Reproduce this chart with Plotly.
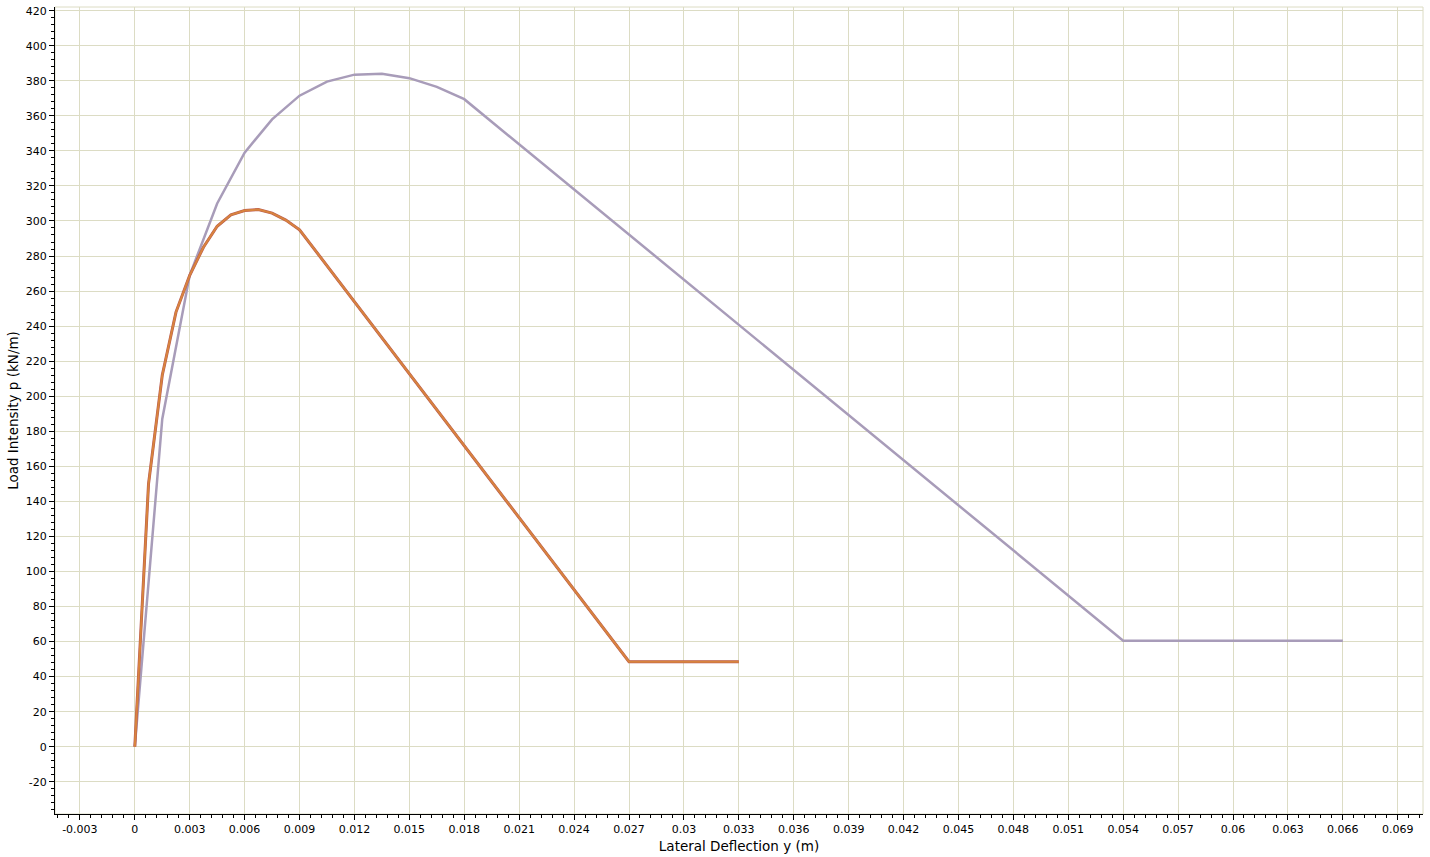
import plotly.graph_objects as go

# Series A (purple)
purple_x = [0, 0.0015, 0.003, 0.0045, 0.006, 0.0075, 0.009, 0.0105, 0.012, 0.0135, 0.015, 0.0165, 0.018, 0.054, 0.066]
purple_y = [0, 187, 269, 310, 339, 358, 371.5, 379.5, 383.5, 384, 381.5, 376.5, 369.5, 60.5, 60.5]

# Series B (orange, drawn over a red twin)
orange_x = [0, 0.00075, 0.0015, 0.00225, 0.003, 0.00375, 0.0045, 0.00525, 0.006, 0.00675, 0.0075, 0.00825, 0.009, 0.027, 0.033]
orange_y = [0, 150, 212, 248, 269, 285, 297, 303.5, 306, 306.5, 304.5, 300.5, 295, 48.5, 48.5]

x_ticks = [-0.003, 0, 0.003, 0.006, 0.009, 0.012, 0.015, 0.018, 0.021, 0.024, 0.027, 0.03, 0.033,
           0.036, 0.039, 0.042, 0.045, 0.048, 0.051, 0.054, 0.057, 0.06, 0.063, 0.066, 0.069]
x_labels = ["-0.003", "0", "0.003", "0.006", "0.009", "0.012", "0.015", "0.018", "0.021", "0.024",
            "0.027", "0.03", "0.033", "0.036", "0.039", "0.042", "0.045", "0.048", "0.051", "0.054",
            "0.057", "0.06", "0.063", "0.066", "0.069"]
y_ticks = [-20, 0, 20, 40, 60, 80, 100, 120, 140, 160, 180, 200, 220, 240, 260, 280, 300, 320, 340, 360, 380, 400, 420]
y_labels = ["-20"] + [str(v) for v in y_ticks[1:]]

GRID = "#dcdcc4"
FONT = "DejaVu Sans"

fig = go.Figure()
fig.add_trace(go.Scatter(x=purple_x, y=purple_y, mode="lines",
                         line=dict(color="#a89cb9", width=2.5), showlegend=False))
fig.add_trace(go.Scatter(x=orange_x, y=orange_y, mode="lines",
                         line=dict(color="#b85a52", width=3), showlegend=False))
fig.add_trace(go.Scatter(x=orange_x, y=orange_y, mode="lines",
                         line=dict(color="#d8843e", width=2), showlegend=False))

axis_common = dict(
    showgrid=True, gridcolor=GRID, gridwidth=1,
    showline=True, linecolor="black", linewidth=1,
    ticks="outside", ticklen=5, tickcolor="black", tickwidth=1,
    zeroline=False, automargin=False,
    tickfont=dict(family=FONT, size=11, color="black"),
)

fig.update_xaxes(
    **axis_common,
    range=[-0.00436, 0.07038],
    tickvals=x_ticks, ticktext=x_labels,
    minor=dict(dtick=0.0006, tick0=0, ticks="outside", ticklen=3, tickcolor="black", showgrid=False),
    title=dict(text="Lateral Deflection y (m)", font=dict(family=FONT, size=13.5, color="black"), standoff=6),
)
fig.update_yaxes(
    **axis_common,
    range=[-38.4, 422.1],
    tickvals=y_ticks, ticktext=y_labels,
    minor=dict(dtick=4, tick0=0, ticks="outside", ticklen=3, tickcolor="black", showgrid=False),
    title=dict(text="Load Intensity p (kN/m)", font=dict(family=FONT, size=13.5, color="black"), standoff=4),
)

fig.add_shape(type="rect", xref="paper", yref="paper", x0=0, x1=1, y0=0, y1=1,
              line=dict(color=GRID, width=1), layer="below")

fig.update_layout(
    width=1430, height=857,
    margin=dict(l=55, r=7, t=7, b=43, autoexpand=False),
    paper_bgcolor="white", plot_bgcolor="white",
    font=dict(family=FONT),
)

fig.write_html("out.html",
               config={"displayModeBar": False},
               post_script="document.body.style.margin='0';document.body.style.overflow='hidden';")
